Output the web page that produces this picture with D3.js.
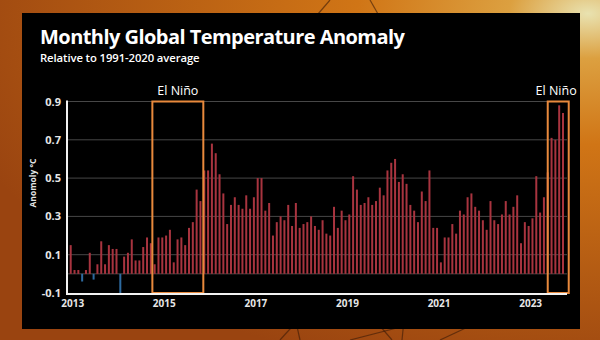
<!DOCTYPE html>
<html>
<head>
<meta charset="utf-8">
<title>Monthly Global Temperature Anomaly</title>
<script src="https://d3js.org/d3.v7.min.js"></script>
<style>
* { margin:0; padding:0; }
body { background:#000; }
svg { display:block; }
</style>
</head>
<body>
<svg id="chart" width="600" height="340"></svg>
<script>
// monthly anomalies (°C vs 1991-2020), Jan 2013 .. Oct 2023
var startYear = 2013;
var anomalies = [
  0.15, 0.02, 0.02, -0.04, 0.02, 0.11, -0.03, 0.05, 0.17, 0.05, 0.15, 0.13,   // 2013
  0.13, -0.10, 0.09, 0.11, 0.18, 0.07, 0.07, 0.14, 0.19, 0.16, 0.05, 0.19,    // 2014
  0.19, 0.20, 0.23, 0.06, 0.18, 0.19, 0.15, 0.24, 0.27, 0.44, 0.38, 0.54,     // 2015
  0.54, 0.68, 0.63, 0.52, 0.42, 0.26, 0.36, 0.40, 0.36, 0.34, 0.41, 0.34,     // 2016
  0.40, 0.50, 0.50, 0.33, 0.37, 0.20, 0.27, 0.30, 0.28, 0.36, 0.25, 0.37,     // 2017
  0.24, 0.26, 0.27, 0.30, 0.25, 0.23, 0.28, 0.21, 0.20, 0.35, 0.24, 0.33,     // 2018
  0.28, 0.31, 0.51, 0.44, 0.36, 0.37, 0.40, 0.36, 0.38, 0.45, 0.41, 0.54,     // 2019
  0.58, 0.60, 0.48, 0.52, 0.47, 0.36, 0.33, 0.27, 0.43, 0.38, 0.54, 0.24,     // 2020
  0.24, 0.06, 0.19, 0.19, 0.26, 0.21, 0.33, 0.31, 0.40, 0.42, 0.35, 0.33,     // 2021
  0.28, 0.23, 0.38, 0.28, 0.26, 0.31, 0.38, 0.31, 0.35, 0.41, 0.16, 0.27,     // 2022
  0.25, 0.29, 0.51, 0.32, 0.40, 0.53, 0.71, 0.70, 0.88, 0.84                  // 2023
];
var yTicks = [-0.1, 0.1, 0.3, 0.5, 0.7, 0.9];
var gridValues = [0, 0.1, 0.3, 0.5, 0.7, 0.9];
var yearTicks = [2013, 2015, 2017, 2019, 2021, 2023];
// El Niño boxes in month index (0 = Jan 2013)
var elNinoLabels = ["El Niño", "El Niño"];
var elNinoFrom = [21.4, 125];
var elNinoTo = [34.75, 130.5];

var svg = d3.select("#chart");
var W = 600, H = 340;

// orange photo backdrop
var defs = svg.append("defs");
var grad = defs.append("radialGradient").attr("id", "bg")
  .attr("cx", "98%").attr("cy", "4%").attr("r", "110%");
grad.append("stop").attr("offset", "0%").attr("stop-color", "#e9e2b0");
grad.append("stop").attr("offset", "12%").attr("stop-color", "#dca040");
grad.append("stop").attr("offset", "35%").attr("stop-color", "#d07516");
grad.append("stop").attr("offset", "100%").attr("stop-color", "#9a4410");
svg.append("rect").attr("width", W).attr("height", H).attr("fill", "url(#bg)");

// a few dark grass stems poking round the panel
var stems = [[280, 340, 300, 318], [300, 340, 296, 322], [350, 340, 420, 322], [392, 340, 380, 326],
  [402, 340, 404, 320], [440, 340, 470, 326], [330, 0, 318, 14], [370, 0, 378, 14]];
svg.append("g").selectAll("line").data(stems).join("line")
  .attr("x1", d => d[0]).attr("y1", d => d[1]).attr("x2", d => d[2]).attr("y2", d => d[3])
  .attr("stroke", "#3a1a08").attr("stroke-width", 1.2).attr("opacity", 0.6);

// black panel
svg.append("rect").attr("x", 22).attr("y", 13).attr("width", 558).attr("height", 316).attr("fill", "#000");

// title
svg.append("text").attr("x", 40).attr("y", 44)
  .attr("font-family", "'Open Sans', sans-serif").attr("font-weight", 700)
  .attr("font-size", 20).attr("fill", "#fff").attr("letter-spacing", -0.55)
  .text("Monthly Global Temperature Anomaly");
svg.append("text").attr("x", 40).attr("y", 62)
  .attr("font-family", "'Open Sans', sans-serif").attr("font-weight", 600)
  .attr("font-size", 11.3).attr("fill", "#fff").attr("letter-spacing", -0.1)
  .text("Relative to 1991-2020 average");

var x = d3.scaleLinear().domain([0, anomalies.length - 1]).range([70.7, 563]);
var y = d3.scaleLinear().domain([-0.1, 0.9]).range([293, 101.5]);

// grid
svg.append("g").selectAll("line").data(gridValues).join("line")
  .attr("x1", 67).attr("x2", 567)
  .attr("y1", d => y(d)).attr("y2", d => y(d))
  .attr("stroke", "#474747").attr("stroke-width", 1);

// bars
var bw = 2;
svg.append("g").selectAll("rect").data(anomalies).join("rect")
  .attr("x", (d, i) => x(i) - bw / 2)
  .attr("width", bw)
  .attr("y", d => y(Math.max(0, d)))
  .attr("height", d => Math.abs(y(d) - y(0)))
  .attr("fill", d => d < 0 ? "#2d6aa0" : "#a8343f");

// El Niño boxes
var boxes = svg.append("g");
boxes.selectAll("rect").data(elNinoFrom).join("rect")
  .attr("x", (d, i) => x(d))
  .attr("width", (d, i) => x(elNinoTo[i]) - x(d))
  .attr("y", y(0.9))
  .attr("height", y(-0.1) - y(0.9))
  .attr("fill", "none").attr("stroke", "#e8893c").attr("stroke-width", 2);
boxes.selectAll("text").data(elNinoLabels).join("text")
  .attr("x", (d, i) => i === 0 ? (x(elNinoFrom[i]) + x(elNinoTo[i])) / 2 : x(elNinoTo[i]) + 8)
  .attr("y", 95)
  .attr("text-anchor", (d, i) => i === 0 ? "middle" : "end")
  .attr("font-family", "'Open Sans', sans-serif").attr("font-size", 12.5)
  .attr("fill", "#fff")
  .text(d => d);

// axes
var xAxis = d3.axisBottom(x)
  .tickValues(yearTicks.map(yr => (yr - startYear) * 12))
  .tickFormat(d => startYear + d / 12)
  .tickSize(0).tickPadding(6);
var gx = svg.append("g").attr("transform", "translate(1.5," + 294 + ")").call(xAxis);
gx.select(".domain").remove();
gx.selectAll("text").attr("font-family", "'Open Sans', sans-serif").attr("font-weight", 700)
  .attr("font-size", 10).attr("fill", "#e6e6e6");

var yAxis = d3.axisLeft(y).tickValues(yTicks).tickFormat(d => d.toFixed(1)).tickSize(0).tickPadding(6);
var gy = svg.append("g").attr("transform", "translate(67,0)").call(yAxis);
gy.select(".domain").remove();
gy.selectAll("text").attr("font-family", "'Open Sans', sans-serif").attr("font-weight", 700)
  .attr("font-size", 11).attr("fill", "#e6e6e6");

// axis lines
svg.append("line").attr("x1", 67).attr("x2", 67).attr("y1", y(0.9) - 1).attr("y2", 295)
  .attr("stroke", "#f2f2f2").attr("stroke-width", 2);
svg.append("line").attr("x1", 66).attr("x2", 567).attr("y1", 294).attr("y2", 294)
  .attr("stroke", "#f2f2f2").attr("stroke-width", 2);

svg.append("text")
  .attr("transform", "translate(36,183) rotate(-90)")
  .attr("text-anchor", "middle")
  .attr("font-family", "'Open Sans', sans-serif").attr("font-weight", 700)
  .attr("font-size", 8.5).attr("fill", "#e6e6e6")
  .text("Anomoly °C");
</script>
</body>
</html>
